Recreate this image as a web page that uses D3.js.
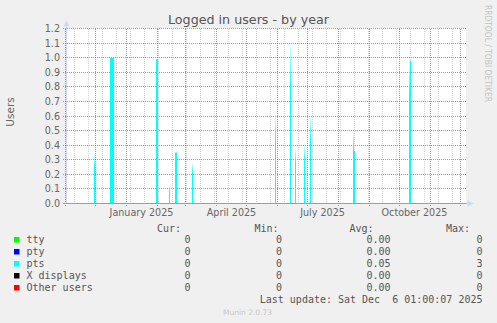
<!DOCTYPE html>
<html><head><meta charset="utf-8">
<script src="https://cdn.jsdelivr.net/npm/d3@7"></script>
<style>
html,body{margin:0;padding:0;background:#F0F0F0;}
svg{display:block;}
</style></head><body>
<svg id="c" width="497" height="323"></svg>
<script>
// ---------- data ----------
const chartTitle = "Logged in users - by year";
const yAxisLabel = "Users";
const sideText = "RRDTOOL / TOBI OETIKER";
const timeStart = "2024-11-01";
const timeEnd = "2025-12-06";
const minorGridFrom = "2024-11-10";
const yTickValues = [0, 0.1, 0.2, 0.3, 0.4, 0.5, 0.6, 0.7, 0.8, 0.9, 1.0, 1.1, 1.2];
const xLabelMonths = ["2025-01-01", "2025-04-01", "2025-07-01", "2025-10-01"];
const xLabelTexts = ["January 2025", "April 2025", "July 2025", "October 2025"];

// pts series: daily averages (all other days are 0)
const ptsDates = ["2024-11-30", "2024-12-16", "2024-12-17", "2024-12-18", "2024-12-19",
  "2025-01-31", "2025-02-01", "2025-02-13", "2025-02-19", "2025-02-20", "2025-03-08",
  "2025-05-30", "2025-06-14", "2025-06-19", "2025-06-28", "2025-07-04",
  "2025-08-16", "2025-08-17", "2025-10-11", "2025-10-12"];
const ptsValues = [0.34, 1.0, 1.0, 1.0, 1.0,
  0.99, 0.99, 0.12, 0.35, 0.35, 0.28,
  0.61, 1.11, 0.38, 0.41, 0.61,
  0.50, 0.36, 1.0, 0.98];

const legendNames = ["tty", "pty", "pts", "X displays", "Other users"];
const legendColors = ["#00FF00", "#0000FF", "#00FFFF", "#000000", "#FF0000"];
const statHeaders = ["Cur:", "Min:", "Avg:", "Max:"];
const statCur = ["0", "0", "0", "0", "0"];
const statMin = ["0", "0", "0", "0", "0"];
const statAvg = ["0.00", "0.00", "0.05", "0.00", "0.00"];
const statMax = ["0", "0", "3", "0", "0"];
const lastUpdate = "Last update: Sat Dec  6 01:00:07 2025";
const footer = "Munin 2.0.73";

// ---------- drawing ----------
const svg = d3.select("#c");
const parse = d3.utcParse("%Y-%m-%d");
const t0 = parse(timeStart), t1 = parse(timeEnd);
const x = d3.scaleUtc().domain([t0, t1]).range([65, 465]);
const y = d3.scaleLinear().domain([0, 1.2]).range([203.5, 28.5]);
const snap = v => Math.round(v - 0.5) + 0.5;

const sans = "'DejaVu Sans', sans-serif";
const mono = "'DejaVu Sans Mono', monospace";
const majorColor = "rgba(215,30,30,0.58)";
const minorColor = "rgba(140,140,140,0.42)";

svg.append("rect").attr("width", 497).attr("height", 323).attr("fill", "#F0F0F0");
svg.append("rect").attr("x", 66).attr("y", 28).attr("width", 400).attr("height", 176).attr("fill", "#FFFFFF");

const defs = svg.append("defs");
const grad = defs.append("linearGradient").attr("id", "fade")
  .attr("x1", 0).attr("y1", 0).attr("x2", 0).attr("y2", 1);
grad.append("stop").attr("offset", 0).attr("stop-color", "#00FFFF").attr("stop-opacity", 0.08);
grad.append("stop").attr("offset", 0.28).attr("stop-color", "#00FFFF").attr("stop-opacity", 1);
grad.append("stop").attr("offset", 1).attr("stop-color", "#00FFFF").attr("stop-opacity", 1);

// minor vertical grid (every two weeks)
const minorTicks = d3.utcSunday.range(parse(minorGridFrom), t1, 2);
svg.append("g").selectAll("line").data(minorTicks).join("line")
  .attr("x1", d => x(d) + 0.5).attr("x2", d => x(d) + 0.5)
  .attr("y1", 28.5).attr("y2", 203.5)
  .attr("stroke", minorColor).attr("stroke-dasharray", "1,1")
  .attr("shape-rendering", "crispEdges");

// major vertical grid (monthly)
const majorTicks = d3.utcMonth.range(t0, t1);
svg.append("g").selectAll("line").data(majorTicks).join("line")
  .attr("x1", d => x(d) + 0.5).attr("x2", d => x(d) + 0.5)
  .attr("y1", 28.5).attr("y2", 206.5)
  .attr("stroke", majorColor).attr("stroke-dasharray", "1,1")
  .attr("shape-rendering", "crispEdges");

// horizontal grid
svg.append("g").selectAll("line").data(yTickValues.filter(v => v > 0)).join("line")
  .attr("x1", 63).attr("x2", 466)
  .attr("y1", d => snap(y(d))).attr("y2", d => snap(y(d)))
  .attr("stroke", majorColor).attr("stroke-dasharray", "1,1")
  .attr("shape-rendering", "crispEdges");

// pts bars
const ptsMap = new Map(ptsDates.map((d, i) => [d, ptsValues[i]]));
const fmt = d3.utcFormat("%Y-%m-%d");
const pts = ptsDates.map((d, i) => {
  const day = parse(d);
  const prev = ptsMap.get(fmt(d3.utcDay.offset(day, -1))) || 0;
  const next = ptsMap.get(fmt(d3.utcDay.offset(day, 1))) || 0;
  return {day, value: ptsValues[i], peak: ptsValues[i] > prev && ptsValues[i] > next};
});
svg.append("g").selectAll("rect").data(pts).join("rect")
  .attr("x", d => x(d.day))
  .attr("width", d => x(d3.utcDay.offset(d.day, 1)) - x(d.day))
  .attr("y", d => y(d.value))
  .attr("height", d => y(0) - y(d.value))
  .attr("fill", d => d.peak ? "url(#fade)" : "#00FFFF");

// axes
svg.append("line").attr("x1", 66.5).attr("x2", 66.5).attr("y1", 203.5).attr("y2", 25)
  .attr("stroke", "#CFD6F8");
svg.append("path").attr("d", "M63.5,26.5 L66.5,20.5 L69.5,26.5 Z").attr("fill", "#CFD6F8");
svg.append("line").attr("x1", 66).attr("x2", 469).attr("y1", 203.5).attr("y2", 203.5)
  .attr("stroke", "#CFD6F8");
svg.append("path").attr("d", "M467.5,200.5 L473.5,203.5 L467.5,206.5 Z").attr("fill", "#CFD6F8");
svg.append("line").attr("x1", 63).attr("x2", 466.5).attr("y1", y(0)).attr("y2", y(0))
  .attr("stroke", "#E48080");

// y tick labels
svg.append("g").selectAll("text").data(yTickValues).join("text")
  .attr("x", 60).attr("y", d => snap(y(d)) + 3.5)
  .attr("text-anchor", "end").attr("font-family", sans).attr("font-size", 9.6)
  .attr("fill", "#666").text(d => d3.format(".1f")(d));

// x labels (centered half a month after the tick)
svg.append("g").selectAll("text").data(xLabelMonths).join("text")
  .attr("x", d => x(d3.utcDay.offset(parse(d), 15)) + 0.5).attr("y", 216)
  .attr("text-anchor", "middle").attr("font-family", sans).attr("font-size", 9.6)
  .attr("fill", "#666").text((d, i) => xLabelTexts[i]);

// title
svg.append("text").attr("x", 248.5).attr("y", 23.5).attr("text-anchor", "middle")
  .attr("font-family", sans).attr("font-size", 12.7).attr("fill", "#555").text(chartTitle);

// y axis label
svg.append("text").attr("transform", "translate(14,112) rotate(-90)")
  .attr("text-anchor", "middle").attr("font-family", sans).attr("font-size", 10.5)
  .attr("fill", "#666").text(yAxisLabel);

// side text
svg.append("text").attr("transform", "translate(484.5,5) rotate(90)")
  .attr("font-family", sans).attr("font-size", 8).attr("fill", "#C4C4C4")
  .attr("textLength", 97).attr("lengthAdjust", "spacingAndGlyphs").text(sideText);

// legend
const headEnds = [181, 278.5, 373.5, 470];
svg.append("g").selectAll("text").data(statHeaders).join("text")
  .attr("x", (d, i) => headEnds[i]).attr("y", 231.5).attr("text-anchor", "end")
  .attr("font-family", mono).attr("font-size", 10).attr("fill", "#555").text(d => d);

const colEnds = [190.5, 282, 390.5, 482.5];
const cols = [statCur, statMin, statAvg, statMax];
const rows = svg.append("g").selectAll("g").data(legendNames).join("g")
  .attr("transform", (d, i) => `translate(0,${242.5 + i * 12})`);
rows.append("rect").attr("x", 14).attr("y", -5.5).attr("width", 5.5).attr("height", 5.5)
  .attr("fill", (d, i) => legendColors[i]);
rows.append("text").attr("x", 26.5).attr("y", 0).attr("font-family", mono).attr("font-size", 10)
  .attr("fill", "#555").text(d => d);
cols.forEach((col, c) => {
  rows.append("text").attr("x", colEnds[c]).attr("y", 0).attr("text-anchor", "end")
    .attr("font-family", mono).attr("font-size", 10).attr("fill", "#555")
    .text((d, i) => col[i]);
});

svg.append("text").attr("x", 482.5).attr("y", 302.5).attr("text-anchor", "end")
  .attr("font-family", mono).attr("font-size", 10).attr("fill", "#555")
  .attr("xml:space", "preserve").style("white-space", "pre").text(lastUpdate);

svg.append("text").attr("x", 247.5).attr("y", 315).attr("text-anchor", "middle")
  .attr("font-family", sans).attr("font-size", 7.5).attr("fill", "#C8C8C8").text(footer);
</script>
</body></html>
